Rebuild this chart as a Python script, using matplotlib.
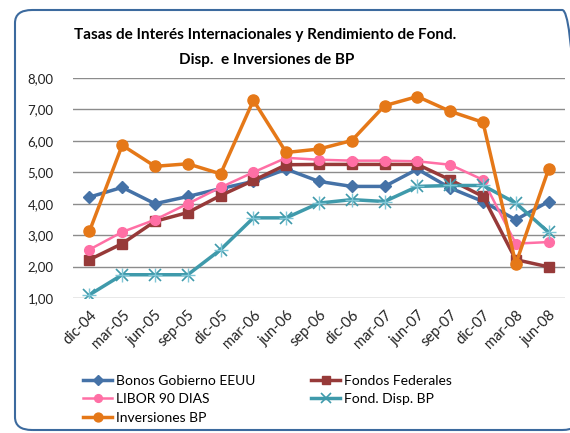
import matplotlib.pyplot as plt
from matplotlib.patches import FancyBboxPatch

fechas = ['dic-04', 'mar-05', 'jun-05', 'sep-05', 'dic-05', 'mar-06', 'jun-06', 'sep-06',
          'dic-06', 'mar-07', 'jun-07', 'sep-07', 'dic-07', 'mar-08', 'jun-08']
bonos = [4.21, 4.52, 4.00, 4.23, 4.48, 4.71, 5.10, 4.71, 4.55, 4.55, 5.10, 4.50, 4.07, 3.49, 4.07]
fondos = [2.22, 2.73, 3.44, 3.72, 4.26, 4.74, 5.24, 5.25, 5.25, 5.25, 5.25, 4.76, 4.23, 2.22, 1.99]
libor = [2.54, 3.10, 3.49, 4.00, 4.52, 5.00, 5.46, 5.40, 5.37, 5.37, 5.35, 5.24, 4.76, 2.73, 2.78]
fond_disp = [1.10, 1.74, 1.74, 1.74, 2.54, 3.55, 3.55, 4.02, 4.13, 4.07, 4.55, 4.58, 4.58, 4.02, 3.09]
inversiones = [3.12, 5.86, 5.19, 5.27, 4.95, 7.29, 5.63, 5.74, 6.01, 7.12, 7.41, 6.94, 6.59, 2.09, 5.10]
yticks = [1, 2, 3, 4, 5, 6, 7, 8]

plt.rcParams['font.family'] = ['Lato', 'DejaVu Sans']

fig = plt.figure(figsize=(5.7, 4.33), dpi=100)
fig.patch.set_facecolor('white')

# marco redondeado tipo Excel
marco = FancyBboxPatch((15 / 570, 3 / 433), 0.99, 420 / 433,
                       boxstyle='round,pad=0,rounding_size=0.03',
                       transform=fig.transFigure, facecolor='none',
                       edgecolor='#3c6a9e', linewidth=1.5, clip_on=False)
fig.patches.append(marco)

ax = fig.add_axes([73 / 570, 135 / 433, 492 / 570, 220 / 433])
x = range(len(fechas))

l1, = ax.plot(x, bonos, color='#4572a7', marker='D', markersize=6, linewidth=2.5, label='Bonos Gobierno EEUU')
l2, = ax.plot(x, fondos, color='#973a39', marker='s', markersize=7, linewidth=2.5, label='Fondos Federales')
l3, = ax.plot(x, libor, color='#ff6fa5', marker='o', markersize=7, linewidth=1.8, label='LIBOR 90 DIAS')
l4, = ax.plot(x, fond_disp, color='#3f9aab', marker='x', markersize=9, markeredgewidth=1.2,
              linewidth=2.5, label='Fond. Disp. BP')
ax.plot(x, fond_disp, color='#7fc6d6', marker='+', markersize=10, markeredgewidth=1.0, linestyle='none')
l5, = ax.plot(x, inversiones, color='#e57818', marker='o', markersize=8, linewidth=2.5, label='Inversiones BP')

ax.set_xlim(-0.5, len(fechas) - 0.5)
ax.set_ylim(1, 8)
ax.set_yticks(yticks)
ax.set_yticklabels([('%.2f' % v).replace('.', ',') for v in yticks])
ax.set_xticks(list(x))
ax.set_xticklabels(fechas, rotation=45, ha='right', rotation_mode='anchor')
ax.tick_params(axis='both', length=0, labelsize=9.5, colors='#222222')
ax.tick_params(axis='x', labelsize=10.5, pad=7)
ax.tick_params(axis='y', pad=14)
ax.grid(axis='y', color='#8c8c8c', linewidth=1)
ax.set_axisbelow(True)
for s in ax.spines.values():
    s.set_visible(False)

fig.text(265 / 570, 1 - 35 / 433, 'Tasas de Interés Internacionales y Rendimiento de Fond.',
         ha='center', va='center', fontsize=11, fontweight='bold')
fig.text(267 / 570, 1 - 60 / 433, 'Disp.  e Inversiones de BP',
         ha='center', va='center', fontsize=11, fontweight='bold')

fig.legend([l1, l3, l5, l2, l4],
           ['Bonos Gobierno EEUU', 'LIBOR 90 DIAS', 'Inversiones BP', 'Fondos Federales', 'Fond. Disp. BP'],
           ncol=2, loc='upper left', bbox_to_anchor=(83 / 570, 1 - 375 / 433),
           frameon=False, fontsize=10, handlelength=2.1, columnspacing=4.05,
           labelspacing=0.45, handletextpad=0.25, markerscale=0.8,
           borderaxespad=0, borderpad=0)

fig.savefig('out.png', dpi=100)
